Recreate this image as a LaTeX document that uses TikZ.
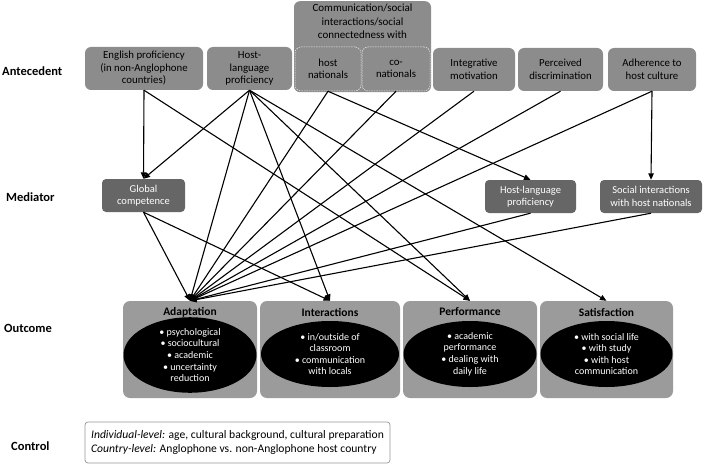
\documentclass[tikz,border=0pt]{standalone}
\usepackage{fontspec}
\setmainfont{Carlito}
\usetikzlibrary{arrows.meta,shapes.geometric}
\definecolor{antegray}{RGB}{140,140,140}
\definecolor{medgray}{RGB}{102,102,102}
\definecolor{outgray}{RGB}{155,155,155}
\definecolor{ctrlborder}{RGB}{150,150,150}
\begin{document}
\begin{tikzpicture}[x=1pt,y=-1pt,
  ante/.style={fill=antegray, rounded corners=6pt, align=center, inner sep=0pt,
    font=\fontsize{10.8}{12.5}\selectfont},
  sub/.style={ante, draw=white!85!antegray, dash pattern=on 1.5pt off 1pt, line width=0.5pt},
  med/.style={fill=medgray, text=white, rounded corners=4pt, align=center, inner sep=0pt,
    font=\fontsize{10.5}{12.5}\selectfont, minimum height=33pt},
  outbox/.style={fill=outgray, rounded corners=7pt, minimum height=97pt, inner sep=0pt},
  otitle/.style={font=\bfseries\fontsize{11.5}{13}\selectfont},
  oval/.style={ellipse, fill=black, text=white, inner sep=0pt, minimum height=66pt,
    align=center, font=\fontsize{10}{11.6}\selectfont},
  lbl/.style={font=\bfseries\fontsize{12.5}{14}\selectfont, anchor=west, inner sep=0pt},
  conn/.style={-{Triangle[length=6.5pt,width=5.5pt]}, line width=1.1pt, black}
]
\useasboundingbox (0,0) rectangle (708,465);

% row labels
\node[lbl] (lA) at (2,71) {Antecedent};
\node[lbl] (lM) at (6,197) {Mediator};
\node[lbl] (lO) at (4,328) {Outcome};
\node[lbl] (lC) at (11,446) {Control};

% antecedents
\node[ante, minimum width=118pt, minimum height=43pt] (eng) at (144,68.5)
  {English proficiency\\(in non-Anglophone\\countries)};
\node[ante, minimum width=85pt, minimum height=43pt] (hl) at (249.5,68.5)
  {Host-\\language\\proficiency};
\node[ante, minimum width=137pt, minimum height=91pt, anchor=north] (comm) at (362.5,1) {};
\node[ante, anchor=north, font=\fontsize{11}{13.5}\selectfont] (commT) at (362.5,4)
  {Communication/social\\interactions/social\\connectedness with};
\node[sub, minimum width=66pt, minimum height=44pt] (hn) at (328,69) {host\\nationals};
\node[sub, minimum width=68pt, minimum height=44pt] (cn) at (396,69) {co-\\nationals};
\node[ante, minimum width=82pt, minimum height=43pt] (integ) at (474,69.5) {Integrative\\motivation};
\node[ante, minimum width=85pt, minimum height=43pt] (perc) at (560.5,69.5) {Perceived\\discrimination};
\node[ante, minimum width=88pt, minimum height=43pt] (adh) at (652,69.5) {Adherence to\\host culture};

% mediators
\node[med, minimum width=83pt] (glob) at (143.5,195.5) {Global\\competence};
\node[med, minimum width=91pt] (hlm) at (530.5,196.5) {Host-language\\proficiency};
\node[med, minimum width=102pt] (soc) at (651,196.5) {Social interactions\\with host nationals};

% outcomes
\node[outbox, minimum width=134pt] (adapt) at (190,349.5) {};
\node[otitle] (adaptT) at (190,312) {Adaptation};
\node[oval, minimum width=133pt] (adaptE) at (190,355)
  {\textbullet\ psychological\\\textbullet\ sociocultural\\\textbullet\ academic\\\textbullet\ uncertainty\\reduction};

\node[outbox, minimum width=140pt] (inter) at (330,349.5) {};
\node[otitle] (interT) at (330,312) {Interactions};
\node[oval, minimum width=138pt] (interE) at (330,354)
  {\textbullet\ in/outside of\\classroom\\\textbullet\ communication\\with locals};

\node[outbox, minimum width=134pt] (perf) at (470,349.5) {};
\node[otitle] (perfT) at (470,312) {Performance};
\node[oval, minimum width=133pt] (perfE) at (470,354)
  {\textbullet\ academic\\performance\\\textbullet\ dealing with\\daily life};

\node[outbox, minimum width=133pt] (sat) at (606.5,349.5) {};
\node[otitle] (satT) at (606.5,312) {Satisfaction};
\node[oval, minimum width=132pt] (satE) at (606.5,354)
  {\textbullet\ with social life\\\textbullet\ with study\\\textbullet\ with host\\communication};

% control
\node[draw=ctrlborder, line width=0.7pt, rounded corners=3pt, fill=white,
  minimum width=305pt, minimum height=41pt, align=left, inner sep=0pt,
  font=\fontsize{11.6}{14}\selectfont] (ctrl) at (237.5,442.5)
  {\textit{Individual-level:} age, cultural background, cultural preparation\\
   \textit{Country-level:} Anglophone vs. non-Anglophone host country};

% connectors
\draw[conn] (eng.south) -- (glob.north);
\draw[conn] (eng.south) -- (perf.north);
\draw[conn] (hl.south) -- (glob.north);
\draw[conn] (hl.south) -- (adapt.north);
\draw[conn] (hl.south) -- (inter.north);
\draw[conn] (hl.south) -- (perf.north);
\draw[conn] (hl.south) -- (sat.north);
\draw[conn] (hn.south) -- (adapt.north);
\draw[conn] (hn.south) -- (hlm.north);
\draw[conn] (cn.south) -- (adapt.north);
\draw[conn] (integ.south) -- (adapt.north);
\draw[conn] (perc.south) -- (adapt.north);
\draw[conn] (adh.south) -- (adapt.north);
\draw[conn] (adh.south) -- (soc.north);
\draw[conn] (glob.south) -- (adapt.north);
\draw[conn] (glob.south) -- (inter.north);
\draw[conn] (hlm.south) -- (adapt.north);
\draw[conn] (soc.south) -- (adapt.north);
\end{tikzpicture}
\end{document}
